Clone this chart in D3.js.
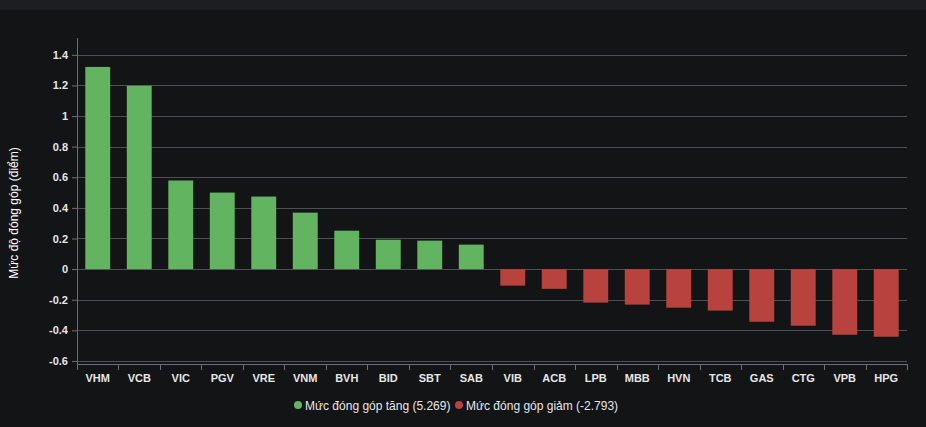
<!DOCTYPE html>
<html><head><meta charset="utf-8">
<script src="https://cdnjs.cloudflare.com/ajax/libs/d3/7.8.5/d3.min.js"></script>
<style>
html,body{margin:0;padding:0;background:#131416;}
svg{display:block;}
</style></head>
<body><svg id="c" width="926" height="427"></svg>
<script>
const categories = ["VHM","VCB","VIC","PGV","VRE","VNM","BVH","BID","SBT","SAB","VIB","ACB","LPB","MBB","HVN","TCB","GAS","CTG","VPB","HPG"];
const values = [1.321,1.198,0.579,0.500,0.474,0.369,0.251,0.192,0.186,0.160,-0.108,-0.129,-0.219,-0.232,-0.252,-0.271,-0.344,-0.370,-0.429,-0.442];
const yTicks = [-0.6,-0.4,-0.2,0,0.2,0.4,0.6,0.8,1,1.2,1.4];
const legendItems = ["Mức đóng góp tăng (5.269)","Mức đóng góp giảm (-2.793)"];
const colors = ["#63b460","#b8423d"];

(function(){
const svg = d3.select("#c");
svg.append("rect").attr("width",926).attr("height",427).attr("fill","#131416");
svg.append("rect").attr("width",926).attr("height",10).attr("fill","#1d1e21");

const mL = 77, mR = 907, mT = 38, mB = 364;
const x = d3.scaleBand().domain(categories).range([mL,mR]).paddingInner(0.4).paddingOuter(0.2);
const y = d3.scaleLinear().domain([-0.62,1.51]).range([mB,mT]);

// grid
svg.append("g").selectAll("line").data(yTicks).join("line")
  .attr("x1",mL).attr("x2",mR).attr("y1",d=>Math.round(y(d))+0.5).attr("y2",d=>Math.round(y(d))+0.5)
  .attr("stroke","#4e4f52").attr("stroke-width",1);

// bars
svg.append("g").selectAll("rect").data(values).join("rect")
  .attr("x",(d,i)=>x(categories[i]))
  .attr("width",x.bandwidth())
  .attr("y",d=>d>=0?y(d):y(0))
  .attr("height",d=>Math.abs(y(d)-y(0)))
  .attr("fill",d=>d>=0?colors[0]:colors[1]);

// y axis
const ya = svg.append("g").attr("transform",`translate(${mL},0)`)
  .call(d3.axisLeft(y).tickValues(yTicks).tickSize(5).tickPadding(4).tickFormat(d=>String(+d.toFixed(1))));
ya.select(".domain").attr("stroke","#6e6f72").attr("d",`M0.5,${mT}V${mB}`);
ya.selectAll(".tick line").attr("stroke","#6e6f72");
ya.selectAll(".tick text").attr("fill","#e6e6e6").attr("font-family","Arial, 'Liberation Sans', sans-serif").attr("font-size",11).attr("font-weight","bold");

// x axis
const xa = svg.append("g").attr("transform",`translate(0,${mB})`)
  .call(d3.axisBottom(x).tickSize(0).tickPadding(10));
xa.select(".domain").attr("stroke","#6e6f72");
xa.selectAll(".tick text").attr("fill","#e6e6e6").attr("font-family","Arial, 'Liberation Sans', sans-serif").attr("font-size",11).attr("font-weight","bold");
const bounds = categories.map(c=>x(c)-x.step()*x.paddingInner()/2).concat([mR]);
xa.append("g").selectAll("line").data(bounds).join("line")
  .attr("x1",d=>Math.round(d)+0.5).attr("x2",d=>Math.round(d)+0.5).attr("y1",0).attr("y2",6)
  .attr("stroke","#6e6f72");

// y title
svg.append("text").attr("transform",`translate(18,${(mT+mB)/2+12}) rotate(-90)`)
  .attr("text-anchor","middle").attr("fill","#ffffff")
  .attr("font-family","Arial, 'Liberation Sans', sans-serif").attr("font-size",12)
  .text("Mức độ đóng góp (điểm)");

// legend
const lg = svg.append("g").attr("font-family","Arial, 'Liberation Sans', sans-serif").attr("font-size",12);
const lx = [298, 459];
legendItems.forEach((t,i)=>{
  lg.append("circle").attr("cx",lx[i]).attr("cy",405).attr("r",4).attr("fill",colors[i]);
  lg.append("text").attr("x",lx[i]+7).attr("y",409.5).attr("fill","#e6e6e6").text(t);
});
})();
</script></body></html>
